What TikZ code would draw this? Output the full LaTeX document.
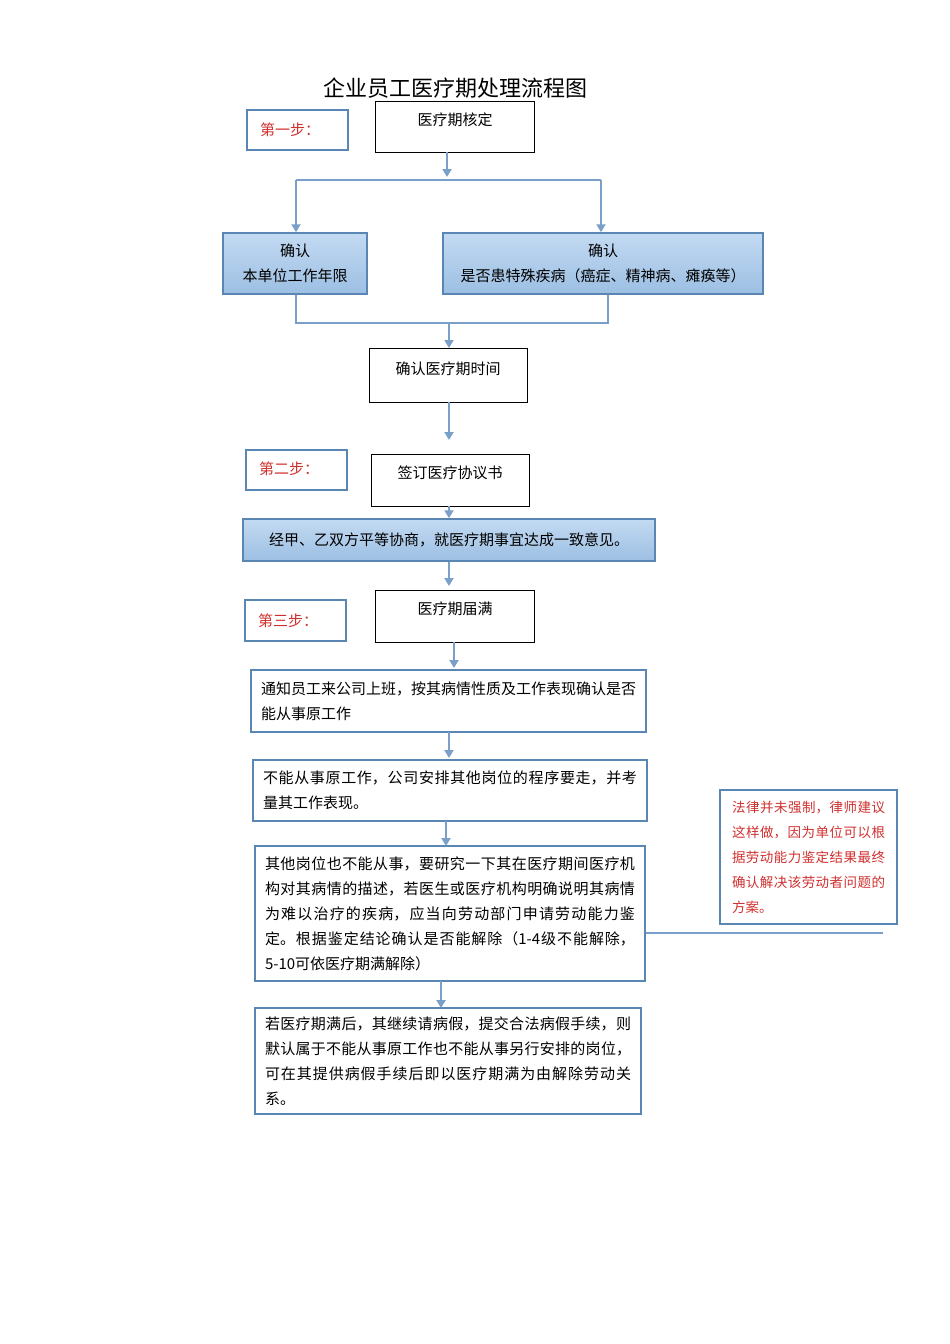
\documentclass[tikz,border=0pt]{standalone}
\usepackage{fontspec}
\setmainfont{Noto Sans CJK SC}
\XeTeXlinebreaklocale "zh"
\XeTeXlinebreakskip=0pt plus 1pt
\usetikzlibrary{arrows.meta}
\definecolor{ln}{HTML}{7A9FC8}
\definecolor{bd}{HTML}{5A86B4}
\definecolor{rd}{HTML}{D0302F}
\definecolor{bt}{HTML}{C3DAF2}
\definecolor{bb}{HTML}{9CBFE3}
\begin{document}
\begin{tikzpicture}[x=1pt,y=-1pt,
  con/.style={draw=ln,line width=2pt},
  arr/.style={con,-{Triangle[width=9pt,length=8pt]}},
  stp/.style={draw=bd,line width=1.5pt},
  blk/.style={draw=black,line width=1pt},
  blu/.style={draw=bd,line width=1.5pt,top color=bt,bottom color=bb,font=\fontsize{15}{25}\selectfont,align=center},
  tb/.style={draw=bd,line width=1.5pt,font=\fontsize{15}{25}\selectfont,align=justify,text width=#1,inner sep=0pt}]
\useasboundingbox (0,0) rectangle (950,1344);
\node[font=\fontsize{22}{24}\selectfont] (title) at (455,88) {企业员工医疗期处理流程图};
% step 1
\draw[stp] (247,110) rectangle (348,150);
\node[text=rd,font=\fontsize{15}{16}\selectfont] (s1) at (290,130) {第一步：};
\draw[blk] (375,101) rectangle (534,152);
\node[font=\fontsize{15}{16}\selectfont] (a) at (455,120) {医疗期核定};
\coordinate (a1) at (447,152);
\coordinate (a2) at (447,177);
\draw[arr] (a1) -- (a2);
\coordinate (hL) at (296,180); \coordinate (hR) at (601,180);
\draw[con] (hL) -- (hR);
\node[blu,minimum width=144pt,minimum height=61pt] (b1) at (295,263.5) {确认\\本单位工作年限};
\node[blu,minimum width=320pt,minimum height=61pt] (b2) at (603,263.5) {确认\\是否患特殊疾病（癌症、精神病、瘫痪等）};
\draw[arr] (hL) -- (b1.north -| hL);
\draw[arr] (hR) -- (b2.north -| hR);
\coordinate (jL) at (296,323); \coordinate (jR) at (608,323); \coordinate (jM) at (449,323);
\draw[con] (b1.south -| jL) -- (jL) -- (jR) -- (b2.south -| jR);
\draw[blk] (369,348) rectangle (527,402);
\node[font=\fontsize{15}{16}\selectfont] (c) at (448,369) {确认医疗期时间};
\coordinate (c0) at (449,348);
\draw[arr] (jM) -- (c0);
% step 2
\draw[stp] (246,450) rectangle (347,490);
\node[text=rd,font=\fontsize{15}{16}\selectfont] (s2) at (289,469) {第二步：};
\draw[blk] (371,454) rectangle (529,506);
\node[font=\fontsize{15}{16}\selectfont] (d) at (450,473) {签订医疗协议书};
\coordinate (c1) at (449,402); \coordinate (c2) at (449,440);
\draw[arr] (c1) -- (c2);
\node[blu,minimum width=412pt,minimum height=42pt] (e) at (449,540) {经甲、乙双方平等协商，就医疗期事宜达成一致意见。};
\coordinate (d1) at (449,506);
\draw[arr] (d1) -- (e.north);
% step 3
\draw[stp] (245,600) rectangle (346,641);
\node[text=rd,font=\fontsize{15}{16}\selectfont] (s3) at (288,621) {第三步：};
\draw[blk] (375,590) rectangle (534,642);
\node[font=\fontsize{15}{16}\selectfont] (f) at (455,609) {医疗期届满};
\coordinate (e1) at (449,586);
\draw[arr] (e.south) -- (e1);
\node[tb=375pt,minimum height=62pt,inner xsep=10pt] (g) at (448.5,701) {通知员工来公司上班，按其病情性质及工作表现确认是否能从事原工作};
\coordinate (f1) at (454,642); \coordinate (f2) at (454,668);
\draw[arr] (f1) -- (f2);
\node[tb=374pt,minimum height=61pt,inner xsep=10pt] (h) at (450,790.5) {不能从事原工作，公司安排其他岗位的程序要走，并考量其工作表现。};
\coordinate (g1) at (449,732); \coordinate (g2) at (449,758);
\draw[arr] (g1) -- (g2);
\node[tb=370pt,minimum height=135pt,inner xsep=10pt] (i) at (450,913.5) {其他岗位也不能从事，要研究一下其在医疗期间医疗机构对其病情的描述，若医生或医疗机构明确说明其病情为难以治疗的疾病，应当向劳动部门申请劳动能力鉴定。根据鉴定结论确认是否能解除（1-4级不能解除，5-10可依医疗期满解除）};
\coordinate (h1) at (446,821); \coordinate (h2) at (446,846);
\draw[arr] (h1) -- (h2);
\node[tb=366pt,minimum height=106pt,inner xsep=10pt] (j) at (448,1061) {若医疗期满后，其继续请病假，提交合法病假手续，则默认属于不能从事原工作也不能从事另行安排的岗位，可在其提供病假手续后即以医疗期满为由解除劳动关系。};
\coordinate (i1) at (441,981); \coordinate (i2) at (441,1008);
\draw[arr] (i1) -- (i2);
\node[tb=153pt,minimum height=134pt,inner xsep=12pt,text=rd,font=\fontsize{13.5}{25}\selectfont] (n) at (808.5,857) {法律并未强制，律师建议这样做，因为单位可以根据劳动能力鉴定结果最终确认解决该劳动者问题的方案。};
\coordinate (nL) at (883,933);
\draw[con] (i.east |- nL) -- (nL);
\end{tikzpicture}
\end{document}
